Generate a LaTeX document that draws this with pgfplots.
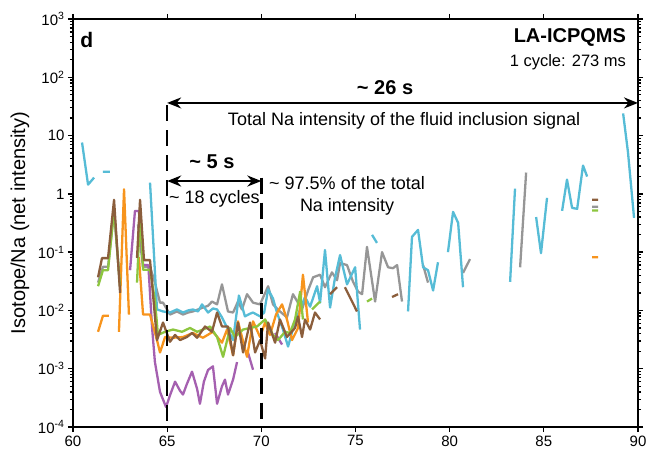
\documentclass[border=0pt]{standalone}
\usepackage{fontspec}
\setmainfont{Liberation Sans}
\usepackage{pgfplots}
\pgfplotsset{compat=1.18}
\usetikzlibrary{arrows.meta}
\definecolor{ccyan}{RGB}{86,188,214}
\definecolor{cgray}{RGB}{150,150,150}
\definecolor{corange}{RGB}{247,148,29}
\definecolor{cgreen}{RGB}{141,198,63}
\definecolor{cbrown}{RGB}{139,94,60}
\definecolor{cpurple}{RGB}{165,96,176}
\begin{document}
\begin{tikzpicture}
\begin{axis}[
  scale only axis, width=565pt, height=408pt,
  xmin=60, xmax=90, ymode=log, ymin=1e-4, ymax=1e3,
  xtick={60,65,...,90},
  ytick={1e-4,1e-3,1e-2,1e-1,1,10,100,1000},
  yticklabels={10\textsuperscript{-4},10\textsuperscript{-3},10\textsuperscript{-2},10\textsuperscript{-1},1,10,10\textsuperscript{2},10\textsuperscript{3}},
  minor ytick={2e-4,3e-4,4e-4,5e-4,6e-4,7e-4,8e-4,9e-4,2e-3,3e-3,4e-3,5e-3,6e-3,7e-3,8e-3,9e-3,2e-2,3e-2,4e-2,5e-2,6e-2,7e-2,8e-2,9e-2,0.2,0.3,0.4,0.5,0.6,0.7,0.8,0.9,2,3,4,5,6,7,8,9,20,30,40,50,60,70,80,90,200,300,400,500,600,700,800,900},
  tick align=outside,
  major tick length=5pt, minor tick length=3pt,
  every tick/.style={black, line width=1.3pt},
  axis line style={line width=2pt},
  tick label style={font=\fontsize{15}{18}\selectfont},
  /pgf/number format/assume math mode=true,
  ylabel={Isotope/Na (net intensity)},
  ylabel style={font=\fontsize{20}{24}\selectfont, at={(axis description cs:-0.094,0.5)}, anchor=center},
  unbounded coords=jump,
  every axis plot/.append style={line width=2.3pt, line join=round},
]
% gray
\addplot[cgray] coordinates {
(61.33,0.030)(61.59,0.056)(61.86,0.056)(62.18,0.5)(62.50,0.025)(62.7,nan)
(63.45,0.3)(63.72,0.056)(64.09,0.056)(64.35,0.03)(64.62,0.0136)
(64.78,0.0136)(65.15,0.0085)(65.52,0.0096)(65.84,0.0085)(66.11,0.0092)(66.37,0.0096)(66.64,0.0104)(66.90,0.0112)(67.17,0.012)(67.38,0.0142)(67.65,0.0127)(67.91,0.028)(68.23,0.0096)(68.50,0.0092)(68.76,0.0142)(68.97,0.0104)(69.24,0.019)(69.56,0.0136)(69.93,0.0127)(70.36,0.026)(70.62,0.0127)(70.99,0.0096)(71.36,0.0076)(71.68,0.019)(72.16,0.0104)(72.48,0.022)(72.75,0.037)(73.12,0.041)(73.38,0.025)(73.75,0.045)(74.02,0.033)(74.18,0.065)(74.55,0.060)(74.87,0.031)(75.14,0.021)(75.35,0.019)(75.61,0.123)(76.04,0.0142)(76.41,0.1)(76.73,0.055)(76.99,0.053)(77.21,0.060)(77.47,0.0142)(77.9,nan)
(78.59,0.060)(78.85,0.030)(79.5,nan)
(80.71,0.044)(81.08,0.076)(82,nan)
(83.74,0.055)(84.06,2.32)(85,nan)
(87.56,0.60)(87.88,0.60)
};
% cyan
\addplot[ccyan] coordinates {
(60.48,7.6)(60.80,1.44)(61.12,1.9)(61.3,nan)
(61.59,2.4)(61.96,2.4)(62.5,nan)
(64.09,1.56)(64.46,0.0104)(64.78,0.0096)(65.15,0.0092)(65.52,0.0104)(65.84,0.0092)(66.11,0.0100)(66.37,0.0104)(66.64,0.0096)(66.85,0.0127)(67.17,0.0092)(67.43,0.0108)(67.65,0.0104)(67.91,0.0076)(68.23,0.0047)(68.50,0.0031)(68.81,0.018)(69.13,0.0079)(69.40,0.0088)(69.56,0.0092)(69.93,0.0079)(70.15,0.0092)(70.36,0.023)(70.62,0.016)(70.83,0.0092)(71.15,0.0047)(71.42,0.0024)(71.79,0.0065)(72.06,0.0104)(72.32,0.017)(72.59,0.0116)(72.96,0.026)(73.12,0.0136)(73.38,0.109)(73.65,0.0112)(73.91,0.036)(74.18,0.089)(74.55,0.028)(74.98,0.055)(75.24,0.0047)(75.5,nan)
(75.88,0.198)(76.14,0.144)(76.5,nan)
(77.79,0.0096)(78.00,0.183)(78.32,0.241)(78.59,0.055)(78.85,0.049)(79.12,0.022)(79.38,0.067)(79.6,nan)
(79.91,0.1)(80.18,0.491)(80.45,0.318)(80.71,0.025)(81,nan)
(83.21,0.031)(83.47,1.23)(84,nan)
(84.59,0.40)(84.85,0.096)(85.17,0.854)(85.5,nan)
(85.97,0.511)(86.23,1.76)(86.50,0.575)(86.77,0.553)(87.08,3.06)(87.30,1.98)(88,nan)
(89.21,24)(89.47,5.1)(89.79,0.388)
};
% purple
\addplot[cpurple] coordinates {
(63.03,0.049)(63.29,0.51)(63.50,0.51)(63.72,0.06)(64.00,0.06)(64.20,0.005)(64.35,0.0013)(64.62,0.0004)(64.94,0.00022)(65.15,0.00035)(65.42,0.00060)(65.68,0.00042)(65.84,0.00036)(66.05,0.00055)(66.32,0.00089)(66.59,0.00045)(66.74,0.00025)(66.95,0.00060)(67.17,0.00095)(67.43,0.0011)(67.65,0.00025)(67.91,0.0005)(68.07,0.00065)(68.23,0.00036)(68.50,0.00065)(68.71,0.0013)(69.0,nan)
(69.29,0.0019)(69.56,0.00096)(70,nan)
(70.73,0.0041)(71.10,0.0026)
};
% orange
\addplot[corange] coordinates {
(61.33,0.0043)(61.59,0.0081)(61.91,0.0081)(62.2,nan)
(62.44,0.0043)(62.71,1.2)(62.97,0.0085)(63.2,nan)
(63.50,0.082)(63.72,0.0085)(64.09,0.0085)(64.46,0.0031)(64.62,0.0019)(64.89,0.0035)(65.31,0.0034)(65.84,0.0035)(66.37,0.0041)(66.90,0.0034)(67.43,0.0043)(67.91,0.0028)(68.18,0.0047)(68.50,0.0017)(68.76,0.0065)(69.24,0.0016)(69.56,0.0065)(69.93,0.0035)(70.20,0.0062)(70.46,0.0038)(70.78,0.0085)(71.10,0.0127)(71.36,0.0070)(71.63,0.0031)(71.95,0.0050)(72.21,0.041)(72.48,0.0062)(73,nan)
(87.56,0.082)(87.88,0.082)
};
% green
\addplot[cgreen] coordinates {
(61.33,0.026)(61.59,0.049)(61.86,0.049)(62.18,0.531)(62.50,0.026)(62.7,nan)
(63.40,0.03)(63.56,0.45)(63.72,0.05)(64.09,0.05)(64.35,0.015)(64.51,0.0038)(64.89,0.0043)(65.31,0.0047)(65.79,0.0043)(66.21,0.0050)(66.59,0.0043)(66.90,0.0047)(67.28,0.0053)(67.65,0.0035)(67.97,0.0016)(68.34,0.0050)(68.60,0.0035)(69.03,0.0047)(69.40,0.0050)(69.77,0.0053)(70.20,0.0070)(70.62,0.0038)(70.89,0.0031)(71.26,0.0043)(71.52,0.0041)(71.79,0.0070)(72.06,0.021)(72.21,0.0070)(72.4,nan)
(72.69,0.0104)(73.12,0.0142)(73.5,nan)
(75.61,0.0142)(75.88,0.016)(76.5,nan)
(87.56,0.52)(87.88,0.52)
};
% brown
\addplot[cbrown] coordinates {
(61.33,0.037)(61.54,0.079)(61.86,0.079)(62.18,0.79)(62.50,0.02)(62.7,nan)
(63.40,0.08)(63.56,0.79)(63.77,0.073)(64.09,0.073)(64.46,0.0031)(64.78,0.0062)(65.15,0.0029)(65.42,0.0038)(65.68,0.0031)(66.05,0.0035)(66.32,0.0041)(66.59,0.0034)(67.01,0.0053)(67.38,0.0043)(67.65,0.0092)(67.91,0.0053)(68.23,0.0053)(68.50,0.0017)(68.76,0.0062)(69.03,0.0019)(69.40,0.0062)(69.67,0.0019)(69.93,0.0031)(70.20,0.0015)(70.36,0.0062)(70.73,0.0028)(70.99,0.0070)(71.36,0.0035)(71.79,0.0050)(71.95,0.0079)(72.16,0.0035)(72.32,0.0070)(72.59,0.0047)(72.85,0.0092)(73.12,0.0070)(73.4,nan)
(73.65,0.019)(74.02,0.025)(74.2,nan)
(74.44,0.025)(75.08,0.0096)(75.5,nan)
(76.94,0.017)(77.26,0.019)(78,nan)
(87.56,0.79)(87.88,0.79)
};
% annotations
\draw[line width=2.4pt, dash pattern=on 16pt off 9pt] (axis cs:65,33) -- (axis cs:65,1e-4);
\draw[line width=2.4pt, dash pattern=on 16pt off 9pt] (axis cs:70,1.9) -- (axis cs:70,1e-4);
\draw[{Stealth[length=14pt,width=11pt]}-{Stealth[length=14pt,width=11pt]}, line width=2pt] (axis cs:65,36.3) -- (axis cs:90,36.3);
\draw[{Stealth[length=14pt,width=11pt]}-{Stealth[length=14pt,width=11pt]}, line width=2pt] (axis cs:65,1.66) -- (axis cs:70,1.66);
\node[font=\fontsize{20}{24}\selectfont\bfseries] at (axis cs:76.57,65.5) {\char`\~{} 26 s};
\node[font=\fontsize{18}{22}\selectfont] at (axis cs:77.58,17.8) {Total Na intensity of the fluid inclusion signal};
\node[font=\fontsize{20}{24}\selectfont\bfseries, anchor=east] at (axis cs:89.55,488) {LA-ICPQMS};
\node[font=\fontsize{16.5}{20}\selectfont, anchor=east] at (axis cs:89.55,183) {1 cycle: 273 ms};
\node[font=\fontsize{21}{25}\selectfont\bfseries, anchor=west] at (axis cs:60.2,437) {d};
\node[font=\fontsize{20}{24}\selectfont\bfseries] at (axis cs:67.38,3.52) {\char`\~{} 5 s};
\node[font=\fontsize{18}{22}\selectfont, anchor=west] at (axis cs:64.92,0.82) {\char`\~{} 18 cycles};
\node[font=\fontsize{18}{22}\selectfont, align=center] at (axis cs:74.55,0.92) {\char`\~{} 97.5\% of the total\\Na intensity};
\end{axis}
\pgfresetboundingbox
\path (current axis.south west) ++(-73pt,-26pt) coordinate (bbA);
\path (current axis.north east) ++(8pt,19pt) coordinate (bbB);
\useasboundingbox (bbA) rectangle (bbB);
\end{tikzpicture}
\end{document}
